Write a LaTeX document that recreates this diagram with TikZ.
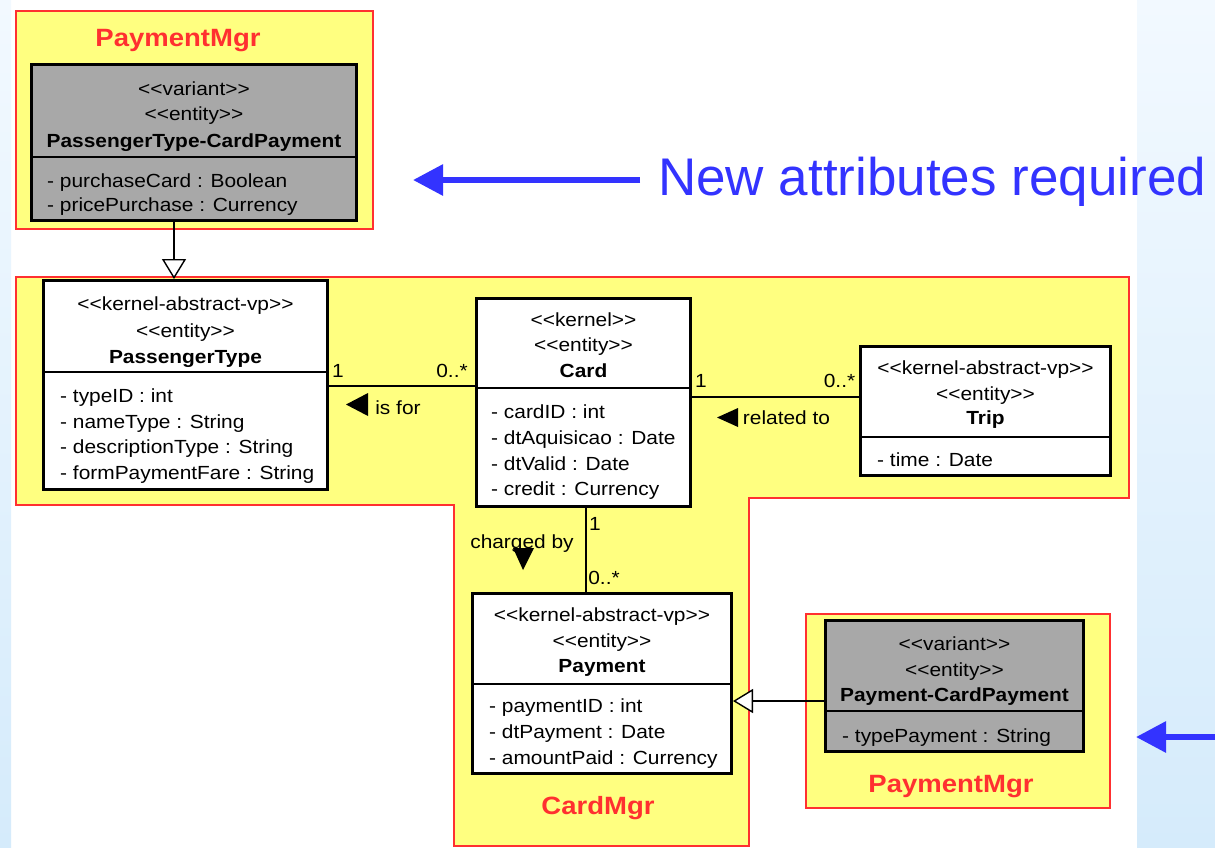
\documentclass[tikz,border=0pt]{standalone}
\usepackage{fontspec}
\setmainfont{Liberation Sans}
\newfontfamily\umlfont[FakeStretch=1.1]{Liberation Sans}
\usetikzlibrary{arrows.meta}

\definecolor{pkgyellow}{HTML}{FFFF80}
\definecolor{pkgred}{HTML}{FF3030}
\definecolor{vargray}{HTML}{A8A8A8}
\definecolor{noteblue}{HTML}{3333FF}
\definecolor{bgtop}{HTML}{F2F9FF}
\definecolor{bgbot}{HTML}{D5EBFB}

% stereotype text, kept apart so the guillemet ligature is not formed
\newcommand\umlst[1]{<\kern0pt<#1>\kern0pt>}

\begin{document}
\begin{tikzpicture}[x=1pt,y=-1pt,
  pkg/.style={draw=pkgred, fill=pkgyellow, line width=1.5pt},
  classbox/.style={draw=black, fill=white, line width=3pt, inner sep=0pt},
  varbox/.style={classbox, fill=vargray},
  sepline/.style={draw=black, line width=1.5pt},
  umltext/.style={font=\umlfont\fontsize{19}{21}\selectfont, inner sep=0pt, anchor=base, yshift=-7pt},
  umlattr/.style={umltext, anchor=base west},
  umlname/.style={umltext, font=\umlfont\bfseries\fontsize{19}{21}\selectfont},
  pkglabel/.style={font=\umlfont\bfseries\fontsize{25}{27}\selectfont, text=pkgred, inner sep=0pt, anchor=base, yshift=-9pt},
  assoc/.style={draw=black, line width=1.4pt},
  gen/.style={draw=black, line width=1.4pt, -{Triangle[fill=white, length=20pt, width=24pt, line width=1.4pt]}},
  dirtri/.style={fill=black},
  note/.style={draw=noteblue, line width=6pt, -{Triangle[length=30pt, width=30pt]}}
]
\useasboundingbox (0,0) rectangle (1215,847);

% page background with the two tinted side bands
\fill[white] (0,0) rectangle (1215,847);
\shade[top color=bgtop, bottom color=bgbot] (0,0) rectangle (11,847);
\shade[top color=bgtop, bottom color=bgbot] (1137,0) rectangle (1215,847);

% packages
\draw[pkg] (16,11) rectangle (373,229);
\node[pkglabel] (pkgtop) at (178,37) {PaymentMgr};
\draw[pkg] (16,277) -- (1129,277) -- (1129,498) -- (749,498) -- (749,846)
  -- (454,846) -- (454,505) -- (16,505) -- cycle;
\node[pkglabel] (pkgcard) at (598,805) {CardMgr};
\draw[pkg] (806,614) rectangle (1110,808);
\node[pkglabel] (pkgpay) at (951,783) {PaymentMgr};

% PassengerType-CardPayment
\node[varbox, minimum width=325pt, minimum height=156pt] (ptcp) at (194,142.5) {};
\node[umltext] (ptcp-s1) at (194,88) {\umlst{variant}};
\node[umltext] (ptcp-s2) at (194,113) {\umlst{entity}};
\node[umlname] (ptcp-n) at (194,140) {PassengerType-CardPayment};
\draw[sepline] (ptcp.west |- 0,157) -- (ptcp.east |- 0,157);
\node[umlattr] (ptcp-a1) at (47,180) {- purchaseCard : Boolean};
\node[umlattr] (ptcp-a2) at (47,204) {- pricePurchase : Currency};

% PassengerType
\node[classbox, minimum width=284pt, minimum height=209pt] (pt) at (185.5,385) {};
\node[umltext] (pt-s1) at (185.5,303) {\umlst{kernel-abstract-vp}};
\node[umltext] (pt-s2) at (185.5,330) {\umlst{entity}};
\node[umlname] (pt-n) at (185.5,356) {PassengerType};
\draw[sepline] (pt.west |- 0,372) -- (pt.east |- 0,372);
\node[umlattr] (pt-a1) at (60,395) {- typeID : int};
\node[umlattr] (pt-a2) at (60,421) {- nameType : String};
\node[umlattr] (pt-a3) at (60,446) {- descriptionType : String};
\node[umlattr] (pt-a4) at (60,472) {- formPaymentFare : String};

% Card
\node[classbox, minimum width=214pt, minimum height=208pt] (card) at (583.5,402.5) {};
\node[umltext] (card-s1) at (583.5,319) {\umlst{kernel}};
\node[umltext] (card-s2) at (583.5,344) {\umlst{entity}};
\node[umlname] (card-n) at (583.5,370) {Card};
\draw[sepline] (card.west |- 0,388) -- (card.east |- 0,388);
\node[umlattr] (card-a1) at (491,411) {- cardID : int};
\node[umlattr] (card-a2) at (491,437) {- dtAquisicao : Date};
\node[umlattr] (card-a3) at (491,463) {- dtValid : Date};
\node[umlattr] (card-a4) at (491,488) {- credit : Currency};

% Trip
\node[classbox, minimum width=250pt, minimum height=129pt] (trip) at (985.5,411) {};
\node[umltext] (trip-s1) at (985.5,367) {\umlst{kernel-abstract-vp}};
\node[umltext] (trip-s2) at (985.5,393) {\umlst{entity}};
\node[umlname] (trip-n) at (985.5,417) {Trip};
\draw[sepline] (trip.west |- 0,437) -- (trip.east |- 0,437);
\node[umlattr] (trip-a1) at (877,459) {- time : Date};

% Payment
\node[classbox, minimum width=259pt, minimum height=180pt] (pay) at (602,683.5) {};
\node[umltext] (pay-s1) at (602,614) {\umlst{kernel-abstract-vp}};
\node[umltext] (pay-s2) at (602,640) {\umlst{entity}};
\node[umlname] (pay-n) at (602,665) {Payment};
\draw[sepline] (pay.west |- 0,684) -- (pay.east |- 0,684);
\node[umlattr] (pay-a1) at (489,705) {- paymentID : int};
\node[umlattr] (pay-a2) at (489,731) {- dtPayment : Date};
\node[umlattr] (pay-a3) at (489,757) {- amountPaid : Currency};

% Payment-CardPayment
\node[varbox, minimum width=258pt, minimum height=131pt] (pcp) at (954.5,686) {};
\node[umltext] (pcp-s1) at (954.5,643) {\umlst{variant}};
\node[umltext] (pcp-s2) at (954.5,669) {\umlst{entity}};
\node[umlname] (pcp-n) at (954.5,694) {Payment-CardPayment};
\draw[sepline] (pcp.west |- 0,711) -- (pcp.east |- 0,711);
\node[umlattr] (pcp-a1) at (842,735) {- typePayment : String};

% generalizations
\coordinate (g1) at (ptcp.south -| 174,0);
\draw[gen] (g1) -- (g1 |- pt.north);
\coordinate (g2) at (pcp.west |- 0,701);
\draw[gen] (g2) -- (g2 -| pay.east);

% associations
\coordinate (a1) at (pt.east |- 0,386);
\draw[assoc] (a1) -- (a1 -| card.west);
\node[umltext] (m1a) at (338,370) {1};
\node[umltext] (m1b) at (452,370) {0..*};
\fill[dirtri] (346,404.5) -- (368,393) -- (368,416) -- cycle;
\node[umltext] (l1) at (398,407) {is for};

\coordinate (a2) at (card.east |- 0,397);
\draw[assoc] (a2) -- (a2 -| trip.west);
\node[umltext] (m2a) at (701,380) {1};
\node[umltext] (m2b) at (839.5,380) {0..*};
\fill[dirtri] (717,417.5) -- (738,408) -- (738,427) -- cycle;
\node[umltext] (l2) at (786.5,417) {related to};

\coordinate (a3) at (card.south -| 586,0);
\draw[assoc] (a3) -- (a3 |- pay.north);
\node[umltext] (m3a) at (595,523) {1};
\node[umltext] (m3b) at (604,577) {0..*};
\node[umltext] (l3) at (522,541) {charged by};
\fill[dirtri] (523,570) -- (513,548) -- (534,548) -- cycle;

% notes
\node[font=\fontsize{53}{60}\selectfont, text=noteblue, inner sep=0pt, anchor=base west, yshift=-19pt] (newattr) at (658,176) {New attributes required};
\coordinate (n1s) at (640,180);
\coordinate (n1e) at (413,180);
\draw[note] (n1s) -- (n1e);
\coordinate (n2s) at (1215,737);
\coordinate (n2e) at (1136,737);
\draw[note] (n2s) -- (n2e);
\end{tikzpicture}
\end{document}
